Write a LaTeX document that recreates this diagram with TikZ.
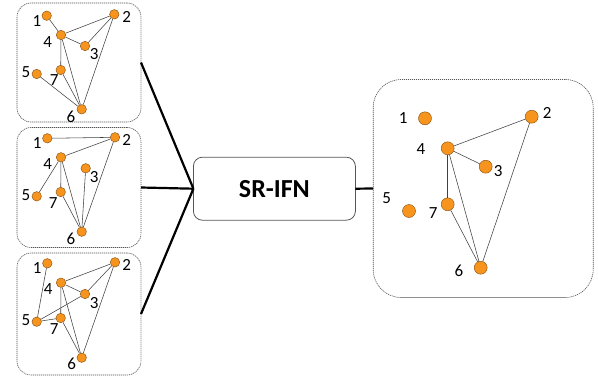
\documentclass[tikz,border=0pt]{standalone}
\usepackage{fontspec}
\setmainfont{Carlito}
\definecolor{nodeorange}{RGB}{247,148,29}
\definecolor{nodeedge}{RGB}{130,75,10}
\definecolor{boxgray}{RGB}{85,85,85}
\begin{document}
\begin{tikzpicture}[x=1pt,y=-1pt,
  frame/.style={draw=boxgray,line width=0.6pt,dash pattern=on 1.2pt off 0.8pt,inner sep=0pt,outer sep=0pt},
  vtx/.style={circle,fill=nodeorange,draw=nodeedge,line width=0.4pt,minimum size=9.5pt,inner sep=0pt},
  bigvtx/.style={vtx,minimum size=13pt},
  lbl/.style={font=\fontsize{17}{17}\selectfont,inner sep=0pt},
  edge/.style={draw=black!75,line width=0.55pt},
  thick link/.style={draw=black,line width=2.2pt},
]
\useasboundingbox (0,0) rectangle (598,381);

% frames
\node[frame,rounded corners=14pt,minimum width=124pt,minimum height=119pt] (box1) at (79,62.5) {};
\node[frame,rounded corners=14pt,minimum width=124pt,minimum height=120pt] (box2) at (79,187.5) {};
\node[frame,rounded corners=14pt,minimum width=124pt,minimum height=122pt] (box3) at (79,314) {};
\node[frame,rounded corners=28pt,minimum width=220pt,minimum height=218pt] (rbox) at (483.2,188.5) {};
\node[draw=boxgray,line width=0.8pt,rounded corners=9pt,minimum width=162pt,minimum height=63pt,inner sep=0pt,outer sep=0pt,font=\fontsize{26}{26}\selectfont\bfseries] (srifn) at (274.4,188.7) {SR-IFN};

% connectors
\draw[thick link] (box1.east) -- (srifn.west);
\draw[thick link] (box2.east) -- (srifn.west);
\draw[thick link] (box3.east) -- (srifn.west);
\draw[thick link] (srifn.east) -- (rbox.west);

% graph 1
\node[vtx] (a1) at (46.7,15.7) {};
\node[vtx] (a2) at (114.3,14.3) {};
\node[vtx] (a3) at (85,46) {};
\node[vtx] (a4) at (61,35) {};
\node[vtx] (a5) at (36.7,74) {};
\node[vtx] (a6) at (81.7,109.3) {};
\node[vtx] (a7) at (60.7,70) {};
\node[lbl] (la1) at (37,21) {1};
\node[lbl] (la2) at (126.7,16.7) {2};
\node[lbl] (la3) at (94.3,54) {3};
\node[lbl] (la4) at (47.7,41.7) {4};
\node[lbl] (la5) at (26,71.7) {5};
\node[lbl] (la6) at (71,116.7) {6};
\node[lbl] (la7) at (54.3,80) {7};
\draw[edge] (a1) -- (a4);
\draw[edge] (a4) -- (a2);
\draw[edge] (a4) -- (a3);
\draw[edge] (a3) -- (a2);
\draw[edge] (a2) -- (a6);
\draw[edge] (a4) -- (a7);
\draw[edge] (a4) -- (a6);
\draw[edge] (a7) -- (a6);
\draw[edge] (a5) -- (a6);

% graph 2
\node[vtx] (b1) at (47.3,138.3) {};
\node[vtx] (b2) at (115,137.3) {};
\node[vtx] (b3) at (85.7,168.3) {};
\node[vtx] (b4) at (61,157.3) {};
\node[vtx] (b5) at (36.7,196.3) {};
\node[vtx] (b6) at (81.7,231.7) {};
\node[vtx] (b7) at (60.7,192) {};
\node[lbl] (lb1) at (37.3,143.3) {1};
\node[lbl] (lb2) at (126.7,140) {2};
\node[lbl] (lb3) at (94.3,176.7) {3};
\node[lbl] (lb4) at (47.7,164.3) {4};
\node[lbl] (lb5) at (26,195) {5};
\node[lbl] (lb6) at (71,239.3) {6};
\node[lbl] (lb7) at (53.3,203.3) {7};
\draw[edge] (b1) -- (b2);
\draw[edge] (b4) -- (b2);
\draw[edge] (b2) -- (b6);
\draw[edge] (b4) -- (b5);
\draw[edge] (b4) -- (b7);
\draw[edge] (b4) -- (b6);
\draw[edge] (b7) -- (b6);
\draw[edge] (b3) -- (b6);

% graph 3
\node[vtx] (c1) at (47.3,263.3) {};
\node[vtx] (c2) at (115,262.3) {};
\node[vtx] (c3) at (85,294) {};
\node[vtx] (c4) at (61,282.7) {};
\node[vtx] (c5) at (36.7,321.7) {};
\node[vtx] (c6) at (81.7,357.7) {};
\node[vtx] (c7) at (60.7,318) {};
\node[lbl] (lc1) at (37.3,268.3) {1};
\node[lbl] (lc2) at (126.7,265) {2};
\node[lbl] (lc3) at (94.3,302.7) {3};
\node[lbl] (lc4) at (48.3,289.3) {4};
\node[lbl] (lc5) at (26,320) {5};
\node[lbl] (lc6) at (71.7,364.3) {6};
\node[lbl] (lc7) at (54.3,329.3) {7};
\draw[edge] (c1) -- (c5);
\draw[edge] (c4) -- (c2);
\draw[edge] (c4) -- (c3);
\draw[edge] (c3) -- (c2);
\draw[edge] (c2) -- (c6);
\draw[edge] (c5) -- (c3);
\draw[edge] (c5) -- (c7);
\draw[edge] (c4) -- (c7);
\draw[edge] (c4) -- (c6);
\draw[edge] (c7) -- (c6);

% result graph
\node[bigvtx] (r1) at (425,118.3) {};
\node[bigvtx] (r2) at (531.7,116.7) {};
\node[bigvtx] (r3) at (485.7,166.7) {};
\node[bigvtx] (r4) at (447.7,148.3) {};
\node[bigvtx] (r5) at (409,211) {};
\node[bigvtx] (r6) at (480.7,267.7) {};
\node[bigvtx] (r7) at (447.7,204.3) {};
\node[lbl] (lr1) at (403.3,117.7) {1};
\node[lbl] (lr2) at (547.3,112.7) {2};
\node[lbl] (lr3) at (498.3,171) {3};
\node[lbl] (lr4) at (421,149) {4};
\node[lbl] (lr5) at (386.7,198.3) {5};
\node[lbl] (lr6) at (459,271) {6};
\node[lbl] (lr7) at (433.3,213.3) {7};
\draw[edge] (r4) -- (r2);
\draw[edge] (r4) -- (r3);
\draw[edge] (r4) -- (r7);
\draw[edge] (r4) -- (r6);
\draw[edge] (r7) -- (r6);
\draw[edge] (r2) -- (r6);
\end{tikzpicture}
\end{document}
